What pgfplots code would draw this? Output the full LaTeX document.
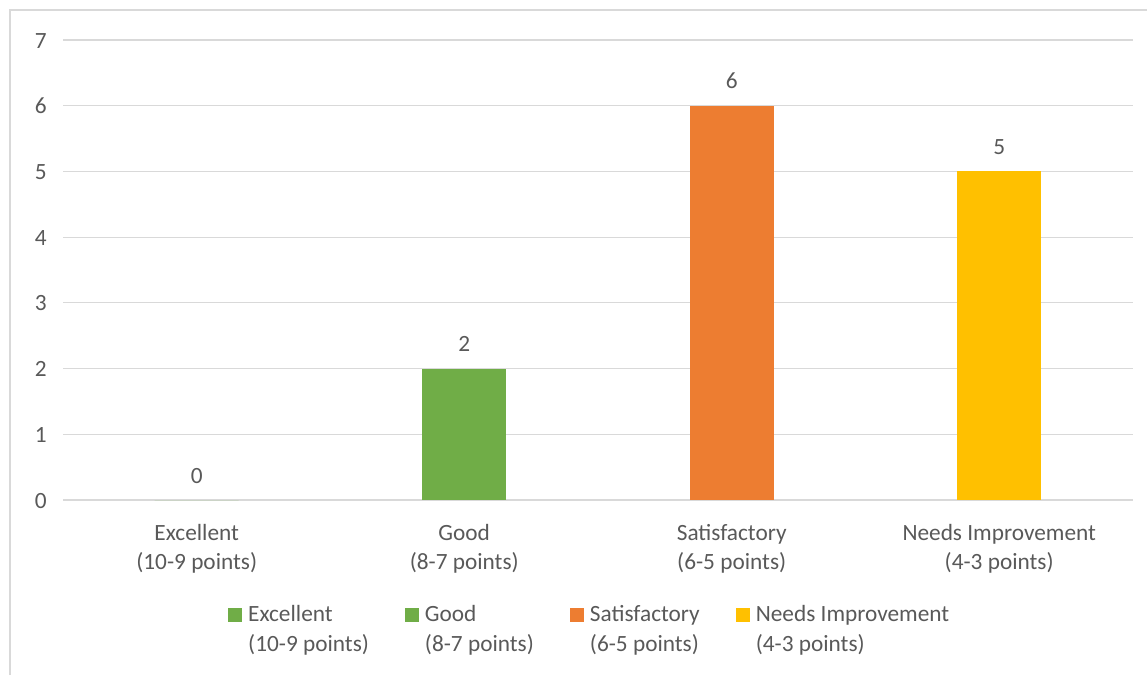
\documentclass[border=0pt]{standalone}
\usepackage{pgfplots}
\pgfplotsset{compat=1.18}
\usepackage{fontspec}
\setmainfont{Carlito}
\definecolor{txt}{HTML}{595959}
\definecolor{gridc}{HTML}{D9D9D9}
\definecolor{cgreen}{HTML}{70AD47}
\definecolor{corange}{HTML}{ED7D31}
\definecolor{cyellow}{HTML}{FFC000}
\newcommand\chartfont{\fontsize{23.3}{29.5}\selectfont}
\newcommand\twoline[3][c]{\begin{tabular}[t]{@{}#1@{}}#2\\#3\end{tabular}}
\begin{document}
\begin{tikzpicture}
\path[use as bounding box] (0,0) rectangle (1147pt,675pt);
\begin{axis}[
  at={(63pt,175pt)}, anchor=south west,
  scale only axis, width=1070pt, height=460pt,
  ybar, bar width=84pt, bar shift=0pt,
  xmin=-0.5, xmax=3.5, ymin=0, ymax=7,
  xtick={0,1,2,3},
  xticklabels={\twoline{Excellent}{(10-9 points)},\twoline{Good}{(8-7 points)},\twoline{Satisfactory}{(6-5 points)},\twoline{Needs Improvement}{(4-3 points)}},
  ytick={0,1,...,7},
  ymajorgrids, grid style={gridc, line width=1.2pt},
  axis line style={draw=none}, major tick length=0pt,
  /pgf/number format/assume math mode=true,
  tick label style={font=\chartfont, text=txt, inner sep=0pt},
  xticklabel style={anchor=base, yshift=-40pt},
  yticklabel style={anchor=base east, xshift=-16pt, yshift=-8pt},
  nodes near coords,
  every node near coord/.append style={font=\chartfont, text=txt, anchor=base, inner sep=0pt, yshift=17pt},
  legend image code/.code={\fill[#1] (0pt,0pt) rectangle (14pt,14pt);},
  legend columns=4,
  legend style={at={(axis description cs:0.1542,-0.2145)}, anchor=north west,
    draw=none, fill=none, inner sep=0pt, font=\chartfont, text=txt,
    cells={anchor=base west},
    /tikz/every odd column/.append style={column sep=4pt},
    /tikz/every even column/.append style={column sep=34pt}},
]
\addplot[fill=cgreen, draw=none] coordinates {(0,0)};
\addlegendentry{\twoline[l]{Excellent}{(10-9 points)}}
\addplot[fill=cgreen, draw=none] coordinates {(1,2)};
\addlegendentry{\twoline[l]{Good}{(8-7 points)}}
\addplot[fill=corange, draw=none] coordinates {(2,6)};
\addlegendentry{\twoline[l]{Satisfactory}{(6-5 points)}}
\addplot[fill=cyellow, draw=none] coordinates {(3,5)};
\addlegendentry{\twoline[l]{Needs Improvement}{(4-3 points)}}
\end{axis}
\draw[gridc, line width=1.2pt] (10pt,0pt) -- (10pt,665pt) -- (1147pt,665pt);
\end{tikzpicture}
\end{document}
